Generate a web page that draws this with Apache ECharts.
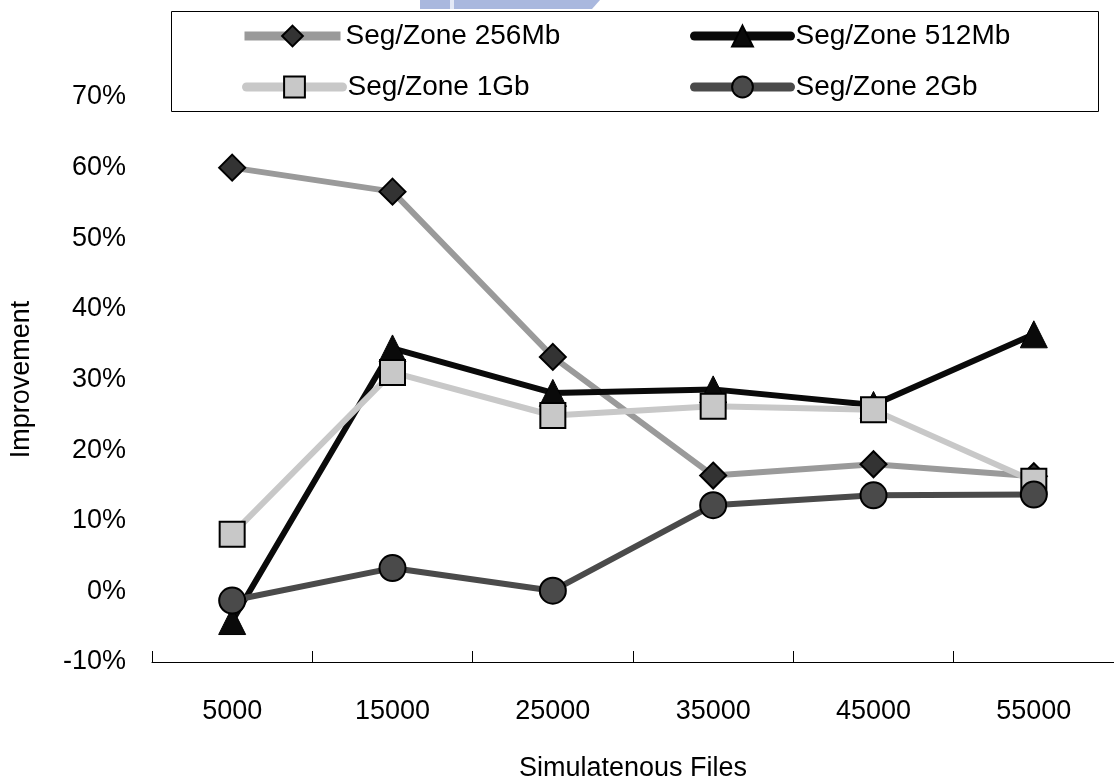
<!DOCTYPE html>
<html>
<head>
<meta charset="utf-8">
<script src="https://cdn.jsdelivr.net/npm/echarts@6/dist/echarts.min.js"></script>
<style>
html,body{margin:0;padding:0;background:#fff;}
#chart{width:1114px;height:783px;}
</style>
</head>
<body>
<div id="chart"></div>
<script>
var categories = ['5000', '15000', '25000', '35000', '45000', '55000'];
var seg256 = [60.0, 56.6, 33.2, 16.4, 18.0, 16.3];
var seg512 = [-4.2, 34.4, 28.1, 28.6, 26.4, 36.4];
var seg1g  = [8.1, 31.0, 24.9, 26.2, 25.7, 15.6];
var seg2g  = [-1.3, 3.3, 0.1, 12.2, 13.6, 13.7];
var seriesNames = ['Seg/Zone 256Mb', 'Seg/Zone 512Mb', 'Seg/Zone 1Gb', 'Seg/Zone 2Gb'];

var FONT = '"Liberation Sans Narrow", "Arial Narrow", "Liberation Sans", Arial, sans-serif';
var chart = echarts.init(document.getElementById('chart'));

function legendAt(name, left, top, lineColor, cap) {
  return {
    data: [name], left: left, top: top, padding: 0,
    itemWidth: 96, itemHeight: 26, itemGap: 6,
    lineStyle: { width: 9, color: lineColor, cap: cap },
    textStyle: { fontFamily: FONT, fontSize: 28, color: '#000', lineHeight: 32 },
    selectedMode: false
  };
}

chart.setOption({
  animation: false,
  backgroundColor: '#fff',
  graphic: [
    { type: 'polygon', shape: { points: [[420, 0], [600, 0], [592, 9], [420, 9]] }, style: { fill: '#a9b8de' }, z: 0 },
    { type: 'rect', shape: { x: 450, y: 0, width: 4, height: 9 }, style: { fill: '#e3e9f6' }, z: 0 },
    { type: 'rect', shape: { x: 171.5, y: 11.5, width: 927, height: 100 }, style: { fill: 'none', stroke: '#000', lineWidth: 1 }, z: 1 }
  ],
  legend: [
    legendAt(seriesNames[0], 240, 20, '#9a9a9a', 'butt'),
    legendAt(seriesNames[1], 690, 20, '#0a0a0a', 'round'),
    legendAt(seriesNames[2], 242, 71, '#c8c8c8', 'round'),
    legendAt(seriesNames[3], 690, 71, '#4a4a4a', 'round')
  ],
  grid: { left: 152, right: 0, top: 97, bottom: 121, containLabel: false, outerBoundsMode: 'none' },
  xAxis: {
    type: 'category',
    data: categories,
    boundaryGap: true,
    axisLine: { show: true, onZero: false, lineStyle: { color: '#000', width: 1 } },
    axisTick: { show: true, inside: true, length: 11, lineStyle: { color: '#000' } },
    axisLabel: { margin: 36, fontFamily: FONT, fontSize: 27, color: '#000' },
    name: 'Simulatenous Files',
    nameLocation: 'middle',
    nameGap: 93,
    nameTextStyle: { fontFamily: FONT, fontSize: 27, color: '#000' },
    splitLine: { show: false }
  },
  yAxis: {
    type: 'value',
    min: -10, max: 70, interval: 10,
    axisLine: { show: false },
    axisTick: { show: false },
    splitLine: { show: false },
    axisLabel: { formatter: '{value}%', margin: 26, fontFamily: FONT, fontSize: 27, color: '#000' },
    name: 'Improvement',
    nameLocation: 'middle',
    nameGap: 117,
    nameRotate: 90,
    nameTextStyle: { fontFamily: FONT, fontSize: 27, color: '#000' }
  },
  series: [
    {
      name: seriesNames[0], type: 'line', data: seg256, z: 2,
      symbol: 'diamond', symbolSize: 26,
      lineStyle: { color: '#9a9a9a', width: 6 },
      itemStyle: { color: '#333333', borderColor: '#000', borderWidth: 2 }
    },
    {
      name: seriesNames[1], type: 'line', data: seg512, z: 3,
      symbol: 'triangle', symbolSize: 27,
      lineStyle: { color: '#0a0a0a', width: 6 },
      itemStyle: { color: '#0a0a0a', borderColor: '#000', borderWidth: 1 }
    },
    {
      name: seriesNames[2], type: 'line', data: seg1g, z: 4,
      symbol: 'rect', symbolSize: 25,
      lineStyle: { color: '#c8c8c8', width: 6 },
      itemStyle: { color: '#c8c8c8', borderColor: '#000', borderWidth: 2 }
    },
    {
      name: seriesNames[3], type: 'line', data: seg2g, z: 5,
      symbol: 'circle', symbolSize: 26,
      lineStyle: { color: '#4a4a4a', width: 6 },
      itemStyle: { color: '#4a4a4a', borderColor: '#000', borderWidth: 2 }
    }
  ]
});
</script>
</body>
</html>
